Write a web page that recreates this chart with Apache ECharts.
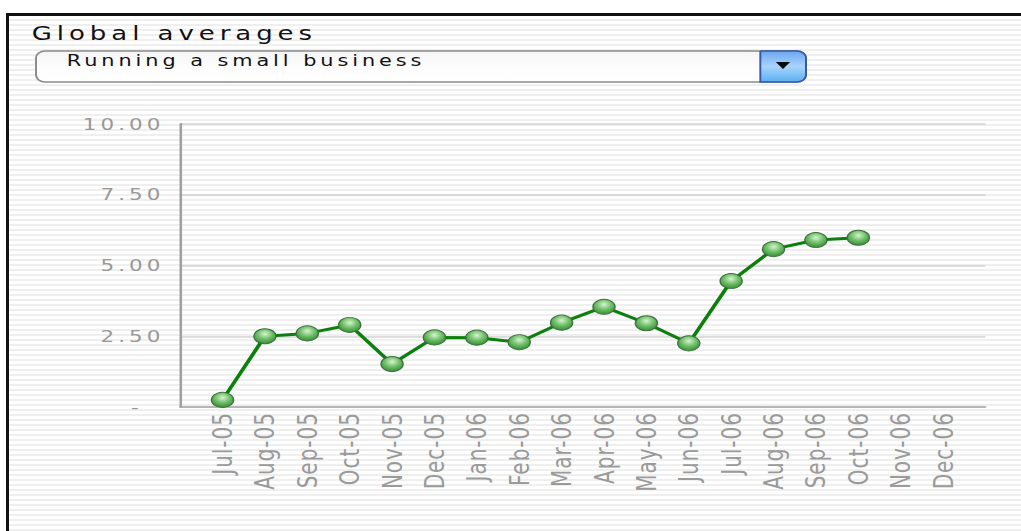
<!DOCTYPE html>
<html>
<head>
<meta charset="utf-8">
<script src="https://cdn.jsdelivr.net/npm/echarts@6/dist/echarts.min.js"></script>
<style>
  html, body { margin: 0; padding: 0; background: #fff; }
  #wrap { position: relative; width: 1021px; height: 531px; overflow: hidden; background: #fff; }
  #frame { position: absolute; left: 6px; top: 13px; width: 1015px; height: 518px;
    border-top: 3px solid #111; border-left: 3px solid #111; box-sizing: border-box;
    background: repeating-linear-gradient(to bottom, #ffffff 0px, #ffffff 3px, #efefef 3px, #efefef 5px); }
  #chart { position: absolute; left: 0; top: 0; width: 785px; height: 531px;
    transform: scaleX(1.3006); transform-origin: 0 0; }
  #chart text { letter-spacing: 0.19em; }
  #chart text[style*="Verdana"], #chart text[font-family*="Verdana"] { letter-spacing: 0.05em; }
</style>
</head>
<body>
<div id="wrap">
  <div id="frame"></div>
  <div id="chart"></div>
</div>
<script>
const titleText = 'Global averages';
const selectText = 'Running a small business';
const months = ['Jul-05','Aug-05','Sep-05','Oct-05','Nov-05','Dec-05','Jan-06','Feb-06','Mar-06','Apr-06','May-06','Jun-06','Jul-06','Aug-06','Sep-06','Oct-06','Nov-06','Dec-06'];
const values = [0.25, 2.5, 2.6, 2.9, 1.52, 2.46, 2.45, 2.29, 2.98, 3.54, 2.96, 2.25, 4.45, 5.58, 5.9, 5.98, null, null];
const yTicks = [0, 2.5, 5, 7.5, 10];
const yTickLabels = ['-  ', '2.50', '5.00', '7.50', '10.00'];

const axisCats = [''].concat(months, ['']);
const seriesData = [null].concat(values, [null]);

const chart = echarts.init(document.getElementById('chart'), null, { renderer: 'svg' });
chart.setOption({
  animation: false,
  backgroundColor: 'transparent',
  textStyle: { fontFamily: 'DejaVu Sans' },
  grid: { left: 138.5, right: 27.3, top: 124, bottom: 124, containLabel: false },
  xAxis: {
    type: 'category',
    data: axisCats,
    boundaryGap: false,
    axisLine: { show: true, lineStyle: { color: '#a8a8a8', width: 1.5 } },
    axisTick: { show: false },
    splitLine: { show: false },
    axisLabel: { rotate: 90, interval: 0, margin: 5, color: '#9a9a9a', fontSize: 20, fontFamily: 'Verdana, "DejaVu Sans"' }
  },
  yAxis: {
    type: 'value',
    min: 0, max: 10, interval: 2.5,
    axisLine: { show: true, lineStyle: { color: '#a0a0a0', width: 2 } },
    axisTick: { show: false },
    splitLine: { show: true, lineStyle: { color: '#d2d2d2', width: 1.5 } },
    axisLabel: {
      margin: 12, color: '#989898', fontSize: 16.5, fontFamily: 'DejaVu Sans',
      formatter: function (v) { const i = yTicks.indexOf(v); return i >= 0 ? yTickLabels[i] : ''; }
    }
  },
  series: [{
    type: 'line',
    data: seriesData,
    symbol: 'circle',
    symbolSize: [17, 15],
    lineStyle: { color: '#0c7f0c', width: 3 },
    itemStyle: {
      color: {
        type: 'radial', x: 0.5, y: 0.35, r: 0.7,
        colorStops: [
          { offset: 0, color: '#d6f3cf' },
          { offset: 0.5, color: '#6cbd66' },
          { offset: 1, color: '#2e862e' }
        ]
      },
      borderColor: '#3d6f3d', borderWidth: 1
    }
  }],
  graphic: [
    { type: 'text', left: 24.4, top: 22.5, style: { text: titleText, fill: '#111', font: '20px "DejaVu Sans"' } },
    { type: 'rect', shape: { x: 27.7, y: 51, width: 592, height: 31, r: 7 },
      style: { fill: { type: 'linear', x: 0, y: 0, x2: 0, y2: 1, colorStops: [
        { offset: 0, color: '#f4f4f4' }, { offset: 0.5, color: '#fdfdfd' }, { offset: 1, color: '#ffffff' } ] },
        stroke: '#8a8a8a', lineWidth: 1.5 } },
    { type: 'rect', shape: { x: 584.6, y: 51, width: 35.1, height: 31, r: [0, 7, 7, 0] },
      style: { fill: { type: 'linear', x: 0, y: 0, x2: 0, y2: 1, colorStops: [
        { offset: 0, color: '#6aa6ee' }, { offset: 0.5, color: '#a9d3fb' }, { offset: 1, color: '#5ab0f4' } ] },
        stroke: '#3558a8', lineWidth: 1.5 } },
    { type: 'polygon', shape: { points: [[596.5, 62], [607.5, 62], [602, 69]] }, style: { fill: '#0a0a0a' } },
    { type: 'text', left: 51.3, top: 52.5, style: { text: selectText, fill: '#111', font: '16px "DejaVu Sans"' } }
  ]
});
</script>
</body>
</html>
